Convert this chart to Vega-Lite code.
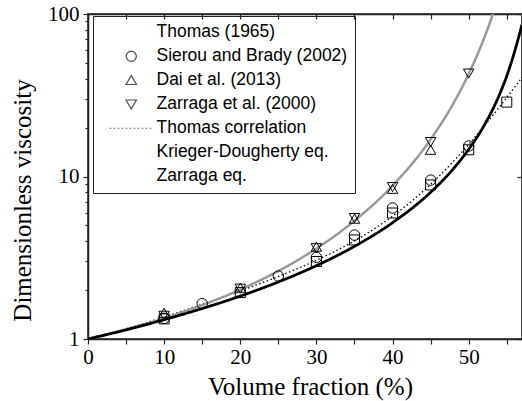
{
  "$schema": "https://vega.github.io/schema/vega-lite/v6.json",
  "width": 434,
  "height": 325,
  "autosize": {"type": "none"},
  "padding": {"left": 88, "top": 14, "right": 0, "bottom": 62},
  "config": {
    "view": {"stroke": "#222", "strokeWidth": 1.5},
    "axis": {
      "grid": false,
      "domainColor": "#222",
      "domainWidth": 1.5,
      "tickColor": "#222",
      "tickWidth": 1.2,
      "labelColor": "#000",
      "titleColor": "#000",
      "labelFont": "Liberation Serif",
      "titleFont": "Liberation Serif",
      "titleFontWeight": "normal"
    }
  },
  "datasets": {
    "pts": [
      {"series": "Thomas (1965)", "x": 10, "y": 1.33},
      {"series": "Thomas (1965)", "x": 20, "y": 1.93},
      {"series": "Thomas (1965)", "x": 30, "y": 3.0},
      {"series": "Thomas (1965)", "x": 35, "y": 4.07},
      {"series": "Thomas (1965)", "x": 40, "y": 5.96},
      {"series": "Thomas (1965)", "x": 45, "y": 8.87},
      {"series": "Thomas (1965)", "x": 50, "y": 14.6},
      {"series": "Thomas (1965)", "x": 55, "y": 28.7},
      {"series": "Sierou and Brady (2002)", "x": 10, "y": 1.34},
      {"series": "Sierou and Brady (2002)", "x": 15, "y": 1.65},
      {"series": "Sierou and Brady (2002)", "x": 25, "y": 2.44},
      {"series": "Sierou and Brady (2002)", "x": 30, "y": 3.18},
      {"series": "Sierou and Brady (2002)", "x": 35, "y": 4.36},
      {"series": "Sierou and Brady (2002)", "x": 40, "y": 6.4},
      {"series": "Sierou and Brady (2002)", "x": 45, "y": 9.5},
      {"series": "Sierou and Brady (2002)", "x": 50, "y": 15.4},
      {"series": "Dai et al. (2013)", "x": 10, "y": 1.45},
      {"series": "Dai et al. (2013)", "x": 20, "y": 2.07},
      {"series": "Dai et al. (2013)", "x": 30, "y": 3.7},
      {"series": "Dai et al. (2013)", "x": 35, "y": 5.5},
      {"series": "Dai et al. (2013)", "x": 40, "y": 8.4},
      {"series": "Dai et al. (2013)", "x": 45, "y": 14.6},
      {"series": "Zarraga et al. (2000)", "x": 10, "y": 1.39},
      {"series": "Zarraga et al. (2000)", "x": 20, "y": 2.04},
      {"series": "Zarraga et al. (2000)", "x": 30, "y": 3.62},
      {"series": "Zarraga et al. (2000)", "x": 35, "y": 5.55},
      {"series": "Zarraga et al. (2000)", "x": 40, "y": 8.6},
      {"series": "Zarraga et al. (2000)", "x": 45, "y": 16.3},
      {"series": "Zarraga et al. (2000)", "x": 50, "y": 43}
    ],
    "curves": [
      {"series": "Thomas correlation", "x": 0, "y": 1.0},
      {"series": "Thomas correlation", "x": 5, "y": 1.156},
      {"series": "Thomas correlation", "x": 10, "y": 1.365},
      {"series": "Thomas correlation", "x": 15, "y": 1.634},
      {"series": "Thomas correlation", "x": 20, "y": 1.978},
      {"series": "Thomas correlation", "x": 25, "y": 2.426},
      {"series": "Thomas correlation", "x": 30, "y": 3.052},
      {"series": "Thomas correlation", "x": 35, "y": 4.017},
      {"series": "Thomas correlation", "x": 40, "y": 5.7},
      {"series": "Thomas correlation", "x": 45, "y": 8.95},
      {"series": "Thomas correlation", "x": 48, "y": 12.39},
      {"series": "Thomas correlation", "x": 50, "y": 15.75},
      {"series": "Thomas correlation", "x": 52, "y": 20.34},
      {"series": "Thomas correlation", "x": 54, "y": 26.6},
      {"series": "Thomas correlation", "x": 55, "y": 30.6},
      {"series": "Thomas correlation", "x": 56, "y": 35.3},
      {"series": "Thomas correlation", "x": 57, "y": 40.7},
      {"series": "Krieger-Dougherty eq.", "x": 0, "y": 1.0},
      {"series": "Krieger-Dougherty eq.", "x": 5, "y": 1.139},
      {"series": "Krieger-Dougherty eq.", "x": 10, "y": 1.315},
      {"series": "Krieger-Dougherty eq.", "x": 15, "y": 1.54},
      {"series": "Krieger-Dougherty eq.", "x": 20, "y": 1.837},
      {"series": "Krieger-Dougherty eq.", "x": 25, "y": 2.245},
      {"series": "Krieger-Dougherty eq.", "x": 30, "y": 2.828},
      {"series": "Krieger-Dougherty eq.", "x": 35, "y": 3.718},
      {"series": "Krieger-Dougherty eq.", "x": 40, "y": 5.196},
      {"series": "Krieger-Dougherty eq.", "x": 45, "y": 8.0},
      {"series": "Krieger-Dougherty eq.", "x": 48, "y": 11.18},
      {"series": "Krieger-Dougherty eq.", "x": 50, "y": 14.7},
      {"series": "Krieger-Dougherty eq.", "x": 52, "y": 20.5},
      {"series": "Krieger-Dougherty eq.", "x": 54, "y": 31.6},
      {"series": "Krieger-Dougherty eq.", "x": 55, "y": 41.6},
      {"series": "Krieger-Dougherty eq.", "x": 56, "y": 58.1},
      {"series": "Krieger-Dougherty eq.", "x": 57, "y": 86},
      {"series": "Zarraga eq.", "x": 0, "y": 1.0},
      {"series": "Zarraga eq.", "x": 5, "y": 1.145},
      {"series": "Zarraga eq.", "x": 10, "y": 1.341},
      {"series": "Zarraga eq.", "x": 15, "y": 1.616},
      {"series": "Zarraga eq.", "x": 20, "y": 2.015},
      {"series": "Zarraga eq.", "x": 25, "y": 2.621},
      {"series": "Zarraga eq.", "x": 30, "y": 3.605},
      {"series": "Zarraga eq.", "x": 35, "y": 5.34},
      {"series": "Zarraga eq.", "x": 40, "y": 8.78},
      {"series": "Zarraga eq.", "x": 45, "y": 16.93},
      {"series": "Zarraga eq.", "x": 48, "y": 28.24},
      {"series": "Zarraga eq.", "x": 50, "y": 42.8},
      {"series": "Zarraga eq.", "x": 52, "y": 70.6},
      {"series": "Zarraga eq.", "x": 53, "y": 94.6},
      {"series": "Zarraga eq.", "x": 53.5, "y": 111}
    ]
  },
  "layer": [
    {
      "data": {"name": "curves"},
      "transform": [{"filter": "datum.series == 'Thomas correlation'"}],
      "mark": {"type": "line", "interpolate": "monotone", "clip": true, "strokeWidth": 1.3},
      "encoding": {
        "x": {"field": "x", "type": "quantitative", "scale": {"domain": [0, 57], "nice": false, "zero": false}, "axis": null},
        "y": {"field": "y", "type": "quantitative", "scale": {"type": "log", "domain": [1, 100], "nice": false}, "axis": null},
        "color": {
          "field": "series", "type": "nominal",
          "scale": {
            "domain": ["Thomas (1965)", "Sierou and Brady (2002)", "Dai et al. (2013)", "Zarraga et al. (2000)", "Thomas correlation", "Krieger-Dougherty eq.", "Zarraga eq."],
            "range": ["#000000", "#000000", "#000000", "#000000", "#000000", "#000000", "#999999"]
          },
          "legend": {
            "orient": "none", "legendX": 5, "legendY": 2, "title": null, "padding": 7.5, "strokeColor": "#222",
            "labelFont": "Liberation Sans", "labelFontSize": 17.5, "labelColor": "#000", "labelLimit": 400,
            "symbolSize": 100, "symbolStrokeWidth": 1.2, "symbolFillColor": "transparent", "labelOffset": 38.5, "rowPadding": 5,
            "labelExpr": "datum.label == 'Krieger-Dougherty eq.' ? '\u00a0Krieger-Dougherty eq.\u00a0\u00a0\u00a0\u00a0\u00a0\u00a0\u00a0\u00a0\u00a0' : datum.label"
          }
        },
        "strokeDash": {
          "field": "series", "type": "nominal",
          "scale": {
            "domain": ["Thomas (1965)", "Sierou and Brady (2002)", "Dai et al. (2013)", "Zarraga et al. (2000)", "Thomas correlation", "Krieger-Dougherty eq.", "Zarraga eq."],
            "range": [[1, 0], [1, 0], [1, 0], [1, 0], [1.5, 2.5], [1, 0], [1, 0]]
          },
          "legend": {
            "orient": "none", "legendX": 5, "legendY": 2, "title": null, "padding": 7.5, "strokeColor": "#222",
            "labelFont": "Liberation Sans", "labelFontSize": 17.5, "labelColor": "#000", "labelLimit": 400,
            "symbolSize": 100, "symbolStrokeWidth": 1.2, "symbolFillColor": "transparent", "labelOffset": 38.5, "rowPadding": 5,
            "labelExpr": "datum.label == 'Krieger-Dougherty eq.' ? '\u00a0Krieger-Dougherty eq.\u00a0\u00a0\u00a0\u00a0\u00a0\u00a0\u00a0\u00a0\u00a0' : datum.label"
          }
        }
      }
    },
    {
      "data": {"name": "curves"},
      "transform": [{"filter": "datum.series == 'Zarraga eq.'"}],
      "mark": {"type": "line", "interpolate": "monotone", "clip": true, "strokeWidth": 2.5},
      "encoding": {
        "x": {"field": "x", "type": "quantitative", "axis": null},
        "y": {"field": "y", "type": "quantitative", "axis": null},
        "color": {"field": "series", "type": "nominal"},
        "strokeDash": {"field": "series", "type": "nominal"}
      }
    },
    {
      "data": {"name": "curves"},
      "transform": [{"filter": "datum.series == 'Krieger-Dougherty eq.'"}],
      "mark": {"type": "line", "interpolate": "monotone", "clip": true, "strokeWidth": 2.8},
      "encoding": {
        "x": {
          "field": "x", "type": "quantitative",
          "axis": {
            "orient": "bottom",
            "values": [0, 5, 10, 15, 20, 25, 30, 35, 40, 45, 50, 55],
            "labelExpr": "datum.value % 10 == 0 ? datum.label : ''",
            "labelFlush": false,
            "labelOverlap": false,
            "labelFontSize": 21,
            "labelPadding": 2,
            "tickSize": 5,
            "title": "Volume fraction (%)",
            "titleFontSize": 25,
            "titleX": 222,
            "titleY": 55,
            "titleAlign": "center",
            "titleBaseline": "alphabetic"
          }
        },
        "y": {
          "field": "y", "type": "quantitative",
          "axis": {
            "orient": "left",
            "values": [1, 2, 3, 4, 5, 6, 7, 8, 9, 10, 20, 30, 40, 50, 60, 70, 80, 90, 100],
            "labelExpr": "indexof([1, 10, 100], datum.value) >= 0 ? format(datum.value, 'd') : ''",
            "labelOverlap": false,
            "labelFontSize": 21,
            "labelPadding": 4,
            "labelBaseline": "middle",
            "tickSize": {"condition": {"test": "indexof([1, 10, 100], datum.value) >= 0", "value": 5}, "value": 3},
            "title": "Dimensionless viscosity",
            "titleFontSize": 25,
            "titleAngle": 270,
            "titleX": -58,
            "titleY": 186,
            "titleAlign": "center",
            "titleBaseline": "alphabetic"
          }
        },
        "color": {"field": "series", "type": "nominal"},
        "strokeDash": {"field": "series", "type": "nominal"}
      }
    },
    {
      "data": {"name": "pts"},
      "transform": [{"filter": "datum.series == 'Thomas (1965)'"}],
      "mark": {"type": "point", "shape": "square", "filled": false, "color": "#000", "strokeWidth": 1, "size": 100, "opacity": 1},
      "encoding": {
        "x": {"field": "x", "type": "quantitative", "axis": null},
        "y": {"field": "y", "type": "quantitative", "axis": null}
      }
    },
    {
      "data": {"name": "pts"},
      "transform": [{"filter": "datum.series == 'Sierou and Brady (2002)'"}],
      "mark": {"type": "point", "shape": "circle", "filled": false, "color": "#000", "strokeWidth": 1, "size": 110, "opacity": 1},
      "encoding": {
        "x": {"field": "x", "type": "quantitative", "axis": null},
        "y": {"field": "y", "type": "quantitative", "axis": null}
      }
    },
    {
      "data": {"name": "pts"},
      "transform": [{"filter": "datum.series == 'Dai et al. (2013)'"}],
      "mark": {"type": "point", "shape": "triangle-up", "filled": false, "color": "#000", "strokeWidth": 1, "size": 110, "opacity": 1},
      "encoding": {
        "x": {"field": "x", "type": "quantitative", "axis": null},
        "y": {"field": "y", "type": "quantitative", "axis": null}
      }
    },
    {
      "data": {"name": "pts"},
      "transform": [{"filter": "datum.series == 'Zarraga et al. (2000)'"}],
      "mark": {"type": "point", "shape": "triangle-down", "filled": false, "color": "#000", "strokeWidth": 1, "size": 110, "opacity": 1},
      "encoding": {
        "x": {"field": "x", "type": "quantitative", "axis": null},
        "y": {"field": "y", "type": "quantitative", "axis": null}
      }
    },
    {
      "data": {"name": "pts"},
      "transform": [{"filter": "false"}],
      "mark": {"type": "point", "filled": false, "color": "#000", "strokeWidth": 1, "size": 100},
      "encoding": {
        "x": {
          "field": "x", "type": "quantitative",
          "axis": {"orient": "top", "values": [0, 5, 10, 15, 20, 25, 30, 35, 40, 45, 50, 55], "labels": false, "tickSize": -5, "title": null}
        },
        "y": {
          "field": "y", "type": "quantitative",
          "axis": {"orient": "right", "values": [1, 10, 100], "labels": false, "tickSize": -5, "title": null}
        },
        "shape": {
          "field": "series", "type": "nominal",
          "scale": {
            "domain": ["Thomas (1965)", "Sierou and Brady (2002)", "Dai et al. (2013)", "Zarraga et al. (2000)", "Thomas correlation", "Krieger-Dougherty eq.", "Zarraga eq."],
            "range": [
              "M0,-1L0,-1M0,1L0,1M3.4,-1L5.4,-1L5.4,1L3.4,1Z",
              "M0,-1L0,-1M0,1L0,1M5.4,0A1,1,0,1,1,3.4,0A1,1,0,1,1,5.4,0Z",
              "M0,-1L0,-1M0,1L0,1M4.4,-0.95L5.45,0.85L3.35,0.85Z",
              "M0,-1L0,-1M0,1L0,1M4.4,0.95L5.45,-0.85L3.35,-0.85Z",
              "M0,-1L0,-1M0,1L0,1M0.1,0L8.7,0",
              "M0,-1L0,-1M0,1L0,1M0.1,-0.12L8.7,-0.12L8.7,0.12L0.1,0.12Z",
              "M0,-1L0,-1M0,1L0,1M0.1,-0.12L8.7,-0.12L8.7,0.12L0.1,0.12Z"
            ]
          },
          "legend": {
            "orient": "none", "legendX": 5, "legendY": 2, "title": null, "padding": 7.5, "strokeColor": "#222",
            "labelFont": "Liberation Sans", "labelFontSize": 17.5, "labelColor": "#000", "labelLimit": 400,
            "symbolSize": 100, "symbolStrokeWidth": 1.2, "symbolFillColor": "transparent", "labelOffset": 38.5, "rowPadding": 5,
            "labelExpr": "datum.label == 'Krieger-Dougherty eq.' ? '\u00a0Krieger-Dougherty eq.\u00a0\u00a0\u00a0\u00a0\u00a0\u00a0\u00a0\u00a0\u00a0' : datum.label"
          }
        }
      }
    }
  ],
  "resolve": {"axis": {"x": "independent", "y": "independent"}}
}
